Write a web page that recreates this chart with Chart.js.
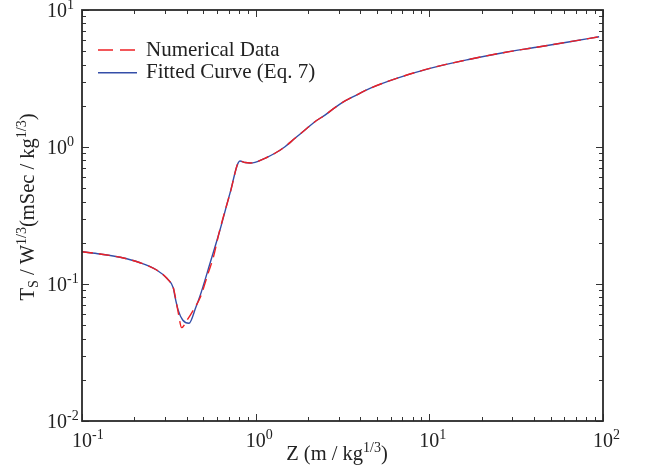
<!DOCTYPE html>
<html lang="en">
<head>
    <meta charset="UTF-8">
    <title>Scaled time vs scaled distance</title>
    <script src="https://cdn.jsdelivr.net/npm/chart.js@4.4.2/dist/chart.umd.min.js"></script>
    <style>
        html, body { margin: 0; padding: 0; background: #fff; }
        #wrap { width: 647px; height: 473px; position: relative; }
    </style>
</head>
<body>
<div id="wrap"><canvas id="chart" width="647" height="473"></canvas></div>
<script>
    // --- data ---
    const seriesNames = ['Numerical Data', 'Fitted Curve (Eq. 7)'];

    const numZ = [0.1, 0.127, 0.166, 0.216, 0.269, 0.308, 0.336, 0.345, 0.358, 0.375,
        0.40, 0.4375, 0.48, 0.533, 0.57, 0.62, 0.711, 0.812, 0.87, 0.93, 0.991,
        1.131, 1.291, 1.475, 1.683, 1.922, 2.194, 2.506, 2.86, 3.27, 3.65, 4.55,
        6.48, 10.08, 17.1, 26.6, 41.5, 64.5, 95];
    const numT = [0.172, 0.1656, 0.1567, 0.143, 0.1265, 0.110, 0.093, 0.080, 0.062, 0.048,
        0.0537, 0.0645, 0.080, 0.120, 0.156, 0.245, 0.455, 0.79, 0.77, 0.765, 0.772,
        0.827, 0.90, 1.005, 1.157, 1.33, 1.53, 1.71, 1.94, 2.17, 2.33, 2.68,
        3.17, 3.75, 4.37, 4.88, 5.35, 5.87, 6.38];

    const fitZ = [0.1, 0.127, 0.166, 0.216, 0.269, 0.308, 0.336, 0.343, 0.358, 0.38,
        0.413, 0.453, 0.477, 0.546, 0.623, 0.711, 0.812, 0.87, 0.93, 0.991,
        1.131, 1.291, 1.475, 1.683, 1.922, 2.194, 2.506, 2.86, 3.27, 3.65, 4.55,
        6.48, 10.08, 17.1, 26.6, 41.5, 64.5, 95];
    const fitT = [0.172, 0.1656, 0.1567, 0.143, 0.1265, 0.110, 0.093, 0.081, 0.0645, 0.0546,
        0.0517, 0.068, 0.081, 0.1416, 0.248, 0.459, 0.79, 0.77, 0.765, 0.772,
        0.827, 0.90, 1.005, 1.157, 1.33, 1.53, 1.71, 1.94, 2.17, 2.33, 2.68,
        3.17, 3.75, 4.37, 4.88, 5.35, 5.87, 6.38];

    const xTicks = [0.1, 1, 10, 100];
    const xTickExp = ['-1', '0', '1', '2'];
    const yTicks = [0.01, 0.1, 1, 10];
    const yTickExp = ['-2', '-1', '0', '1'];

    const SERIF = '"Liberation Serif", "DejaVu Serif", serif';
    const INK = '#222';

    function toPoints(xs, ys) {
        return xs.map((x, i) => ({ x: x, y: ys[i] }));
    }

    // draw a run of text pieces (base, super, sub) left to right
    function richWidth(ctx, parts) {
        let w = 0;
        parts.forEach(p => {
            ctx.font = p.size + 'px ' + SERIF;
            w += ctx.measureText(p.t).width;
        });
        return w;
    }
    function drawRich(ctx, parts, x, y) {
        let cx = x;
        parts.forEach(p => {
            ctx.font = p.size + 'px ' + SERIF;
            ctx.fillText(p.t, cx, y + (p.dy || 0));
            cx += ctx.measureText(p.t).width;
        });
    }

    function minorValues(min, max) {
        const out = [];
        for (let d = min; d < max; d *= 10) {
            for (let k = 2; k <= 9; k++) out.push(d * k);
        }
        return out;
    }

    const framePlugin = {
        id: 'frame',
        afterDraw(chart) {
            const ctx = chart.ctx;
            const a = chart.chartArea;
            const xs = chart.scales.x, ys = chart.scales.y;
            ctx.save();

            // ticks pointing inward on all four sides
            ctx.strokeStyle = '#333';
            ctx.lineWidth = 1;
            ctx.beginPath();
            xTicks.forEach(v => {
                const px = Math.round(xs.getPixelForValue(v)) + 0.5;
                ctx.moveTo(px, a.bottom); ctx.lineTo(px, a.bottom - 7);
                ctx.moveTo(px, a.top); ctx.lineTo(px, a.top + 7);
            });
            minorValues(0.1, 100).forEach(v => {
                const px = Math.round(xs.getPixelForValue(v)) + 0.5;
                ctx.moveTo(px, a.bottom); ctx.lineTo(px, a.bottom - 4);
                ctx.moveTo(px, a.top); ctx.lineTo(px, a.top + 4);
            });
            yTicks.forEach(v => {
                const py = Math.round(ys.getPixelForValue(v)) + 0.5;
                ctx.moveTo(a.left, py); ctx.lineTo(a.left + 7, py);
                ctx.moveTo(a.right, py); ctx.lineTo(a.right - 7, py);
            });
            minorValues(0.01, 10).forEach(v => {
                const py = Math.round(ys.getPixelForValue(v)) + 0.5;
                ctx.moveTo(a.left, py); ctx.lineTo(a.left + 4, py);
                ctx.moveTo(a.right, py); ctx.lineTo(a.right - 4, py);
            });
            ctx.stroke();

            // frame
            ctx.strokeStyle = '#2a2a2a';
            ctx.lineWidth = 1.8;
            ctx.strokeRect(a.left, a.top, a.right - a.left, a.bottom - a.top);

            ctx.fillStyle = INK;
            ctx.textBaseline = 'alphabetic';
            ctx.textAlign = 'left';

            // x tick labels: "10" centred on the tick, exponent after it
            xTicks.forEach((v, i) => {
                const px = xs.getPixelForValue(v);
                ctx.font = '20px ' + SERIF;
                const w10 = ctx.measureText('10').width;
                drawRich(ctx, [{ t: '10', size: 20 }, { t: xTickExp[i], size: 14, dy: -8 }],
                    px - w10 / 2, a.bottom + 26);
            });

            // y tick labels, left aligned
            yTicks.forEach((v, i) => {
                const py = ys.getPixelForValue(v);
                drawRich(ctx, [{ t: '10', size: 20 }, { t: yTickExp[i], size: 14, dy: -8 }],
                    47, py + 7);
            });

            // x axis title
            const xTitle = [{ t: 'Z (m / kg', size: 20.5 }, { t: '1/3', size: 14, dy: -8 }, { t: ')', size: 20.5 }];
            const xw = richWidth(ctx, xTitle);
            drawRich(ctx, xTitle, 337 - xw / 2, 460);

            // y axis title, rotated
            const yTitle = [
                { t: 'T', size: 20.5 }, { t: 'S', size: 14, dy: 4 },
                { t: ' / W', size: 20.5 }, { t: '1/3', size: 14, dy: -8 },
                { t: '(mSec / kg', size: 20.5 }, { t: '1/3', size: 14, dy: -8 },
                { t: ')', size: 20.5 }
            ];
            const yw = richWidth(ctx, yTitle);
            ctx.save();
            ctx.translate(34, 207);
            ctx.rotate(-Math.PI / 2);
            drawRich(ctx, yTitle, -yw / 2, 0);
            ctx.restore();

            // legend inside the plot
            chart.data.datasets.forEach((ds, i) => {
                const ly = 50 + i * 22.7;
                ctx.strokeStyle = ds.borderColor;
                ctx.lineWidth = ds.borderWidth;
                ctx.setLineDash(ds.borderDash ? [15, 7] : []);
                ctx.beginPath();
                ctx.moveTo(98, ly);
                ctx.lineTo(137, ly);
                ctx.stroke();
                ctx.setLineDash([]);
                ctx.fillStyle = INK;
                ctx.font = '21px ' + SERIF;
                ctx.fillText(ds.label, 146, ly + 5.5);
            });

            ctx.restore();
        }
    };

    new Chart(document.getElementById('chart').getContext('2d'), {
        type: 'scatter',
        data: {
            datasets: [
                {
                    label: seriesNames[0],
                    data: toPoints(numZ, numT),
                    showLine: true,
                    borderColor: 'rgb(238, 32, 36)',
                    borderWidth: 1.4,
                    borderDash: [11, 6],
                    pointRadius: 0,
                    cubicInterpolationMode: 'monotone'
                },
                {
                    label: seriesNames[1],
                    data: toPoints(fitZ, fitT),
                    showLine: true,
                    borderColor: 'rgb(52, 78, 168)',
                    borderWidth: 1.4,
                    pointRadius: 0,
                    cubicInterpolationMode: 'monotone'
                }
            ]
        },
        options: {
            responsive: false,
            animation: false,
            layout: { padding: { left: 82, right: 44, top: 10, bottom: 52 } },
            scales: {
                x: { type: 'logarithmic', min: 0.1, max: 100, display: false },
                y: { type: 'logarithmic', min: 0.01, max: 10, display: false }
            },
            plugins: {
                legend: { display: false },
                tooltip: { enabled: false }
            }
        },
        plugins: [framePlugin]
    });
</script>
</body>
</html>
